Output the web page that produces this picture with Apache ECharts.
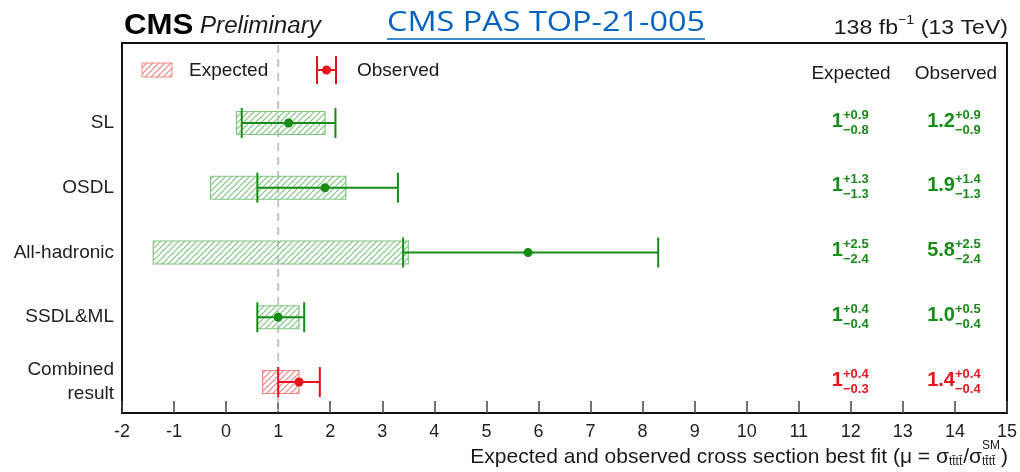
<!DOCTYPE html>
<html>
<head>
<meta charset="utf-8">
<script src="https://cdn.jsdelivr.net/npm/echarts@6/dist/echarts.min.js"></script>
<style>
  html, body { margin: 0; padding: 0; background: #fff; }
  #chart { width: 1020px; height: 472px; }
</style>
</head>
<body>
<div id="chart"></div>
<script>
// Channels, top to bottom
const categories = ['SL', 'OSDL', 'All-hadronic', 'SSDL&ML', 'Combined\nresult'];
// Expected signal strength (central, +up, -down)
const expCentral = [1, 1, 1, 1, 1];
const expUp = [0.9, 1.3, 2.5, 0.4, 0.4];
const expDown = [0.8, 1.3, 2.4, 0.4, 0.3];
// Observed signal strength (central, +up, -down)
const obsCentral = [1.2, 1.9, 5.8, 1.0, 1.4];
const obsUp = [0.9, 1.4, 2.5, 0.5, 0.4];
const obsDown = [0.9, 1.3, 2.4, 0.4, 0.4];
// Standard Model reference value
const smValue = [1];
// x-axis ticks
const xMin = -2, xMax = 15, xStep = 1;

const FONT = "'Liberation Sans', Arial, Helvetica, sans-serif";
const GREEN = '#178c17';
const RED = '#e8141c';
const GREEN_HATCH = '#7fc67f';
const RED_HATCH = '#ee8585';

const yMin = -1.2355, yMax = 4.479;

function hatch(color) {
  const s = 6;
  const c = document.createElement('canvas');
  c.width = s; c.height = s;
  const g = c.getContext('2d');
  g.strokeStyle = color;
  g.lineWidth = 1.2;
  g.beginPath();
  g.moveTo(0, s); g.lineTo(s, 0);
  g.moveTo(-s / 2, s / 2); g.lineTo(s / 2, -s / 2);
  g.moveTo(s / 2, s * 1.5); g.lineTo(s * 1.5, s / 2);
  g.stroke();
  return c;
}
const greenPattern = { image: hatch(GREEN_HATCH), repeat: 'repeat' };
const redPattern = { image: hatch(RED_HATCH), repeat: 'repeat' };

const lastRow = categories.length - 1;
const isCombined = i => i === lastRow;

const measureCtx = document.createElement('canvas').getContext('2d');
function tw(text, font) { measureCtx.font = font; return measureCtx.measureText(text).width; }

const fmtErr = v => v.toFixed(1);

const expData = categories.map((_, i) => [i, expCentral[i] - expDown[i], expCentral[i] + expUp[i]]);
const obsData = categories.map((_, i) => [i, obsCentral[i] - obsDown[i], obsCentral[i] + obsUp[i], obsCentral[i]]);
const labelData = categories.map((_, i) => [i, 0]);

// ---- header / axis-title text built from pieces ----
const graphics = [];
function txt(text, x, y, size, opts) {
  opts = opts || {};
  graphics.push({
    type: 'text', x: x, y: y, silent: true, scaleX: opts.scaleX || 1,
    style: {
      text: text, fill: opts.fill || '#1a1a1a',
      font: (opts.style || 'normal') + ' ' + (opts.weight || 'normal') + ' ' + size + 'px ' + (opts.family || FONT),
      align: opts.align || 'left', verticalAlign: 'middle'
    }
  });
}

// CMS Preliminary
txt('CMS', 124, 26, 30, { weight: 'bold', fill: '#000', scaleX: 1.04 });
txt('Preliminary', 200, 27, 23, { style: 'italic', scaleX: 1.05 });
// document reference
const linkFont = "normal normal 28px 'Open Sans', sans-serif";
const linkText = 'CMS PAS TOP-21-005';
const linkScale = 318 / tw(linkText, linkFont);
txt(linkText, 387, 23, 28, { family: "'Open Sans', sans-serif", fill: '#0563c1', scaleX: linkScale });
graphics.push({ type: 'line', silent: true, shape: { x1: 387, y1: 39, x2: 705, y2: 39 },
  style: { stroke: '#0563c1', lineWidth: 1.5 } });

// luminosity label, right aligned
(function () {
  const sc = 1.1;
  const big = 'normal normal 21px ' + FONT, small = 'normal normal 13px ' + FONT;
  const right = 1008;
  const b = ' (13 TeV)', s = '\u22121', a = '138 fb';
  const xB = right - tw(b, big) * sc;
  const xS = xB - tw(s, small) * sc;
  const xA = xS - tw(a, big) * sc;
  txt(a, xA, 28, 21, { scaleX: sc });
  txt(s, xS, 20, 13, { scaleX: sc });
  txt(b, xB, 28, 21, { scaleX: sc });
})();

// column headers
txt('Expected', 851, 74, 19, { align: 'center' });
txt('Observed', 956, 74, 19, { align: 'center' });

// legend
graphics.push({ type: 'rect', silent: true, shape: { x: 142, y: 63, width: 30, height: 14 },
  style: { fill: redPattern, stroke: RED_HATCH, lineWidth: 1 } });
txt('Expected', 189, 71, 19);
graphics.push({ type: 'line', silent: true, shape: { x1: 317, y1: 70, x2: 336, y2: 70 }, style: { stroke: RED, lineWidth: 2 } });
graphics.push({ type: 'line', silent: true, shape: { x1: 317, y1: 56, x2: 317, y2: 84 }, style: { stroke: RED, lineWidth: 2 } });
graphics.push({ type: 'line', silent: true, shape: { x1: 336, y1: 56, x2: 336, y2: 84 }, style: { stroke: RED, lineWidth: 2 } });
graphics.push({ type: 'circle', silent: true, shape: { cx: 326.5, cy: 70, r: 4.5 }, style: { fill: RED } });
txt('Observed', 357, 71, 19);

// x-axis title, assembled right to left
(function () {
  const size = 21, subSize = 12;
  const big = 'normal normal ' + size + 'px ' + FONT, small = 'normal normal ' + subSize + 'px ' + FONT;
  const yMain = 457, ySup = 446, ySub = 462;
  const tttt = 't t\u0304t t\u0304'.replace(/ /g, '');
  let x = 1008;
  x -= tw(')', big); txt(')', x, yMain, size);
  const stackW = Math.max(tw('SM', small), tw(tttt, small));
  x -= stackW + 1;
  txt('SM', x, ySup, subSize);
  txt(tttt, x, ySub, subSize);
  x -= tw('/\u03c3', big); txt('/\u03c3', x, yMain, size);
  x -= tw(tttt, small) + 1; txt(tttt, x, ySub, subSize);
  txt('Expected and observed cross section best fit (\u03bc = \u03c3', x, yMain, size, { align: 'right' });
})();

const chart = echarts.init(document.getElementById('chart'), null, { renderer: 'canvas' });

chart.setOption({
  animation: false,
  backgroundColor: '#fff',
  textStyle: { fontFamily: FONT },
  grid: { left: 122, right: 11, top: 43, bottom: 59, show: true, borderColor: '#111', borderWidth: 2 },
  xAxis: {
    type: 'value', min: xMin, max: xMax, interval: xStep,
    axisLine: { show: true, onZero: false, lineStyle: { color: '#111', width: 2 } },
    axisTick: { show: true, inside: true, length: 12, lineStyle: { color: '#444', width: 1.5 } },
    axisLabel: { fontSize: 18, color: '#222', margin: 10, fontFamily: FONT },
    splitLine: { show: false }
  },
  yAxis: {
    type: 'value', inverse: true, min: yMin, max: yMax,
    axisLine: { show: false }, axisTick: { show: false }, splitLine: { show: false },
    axisLabel: {
      customValues: categories.map((_, i) => i),
      formatter: v => categories[Math.round(v)],
      fontSize: 19, color: '#222', margin: 8, lineHeight: 24, fontFamily: FONT
    }
  },
  graphic: graphics,
  series: [
    {
      // dashed Standard Model reference line
      name: 'SM', type: 'custom', clip: false, z: 1,
      data: smValue.map(v => [v]),
      encode: { x: 0 },
      renderItem: function (params, api) {
        const top = api.coord([api.value(0), yMin]);
        const bot = api.coord([api.value(0), yMax]);
        return {
          type: 'line',
          shape: { x1: top[0], y1: top[1] + 2, x2: bot[0], y2: bot[1] - 2 },
          style: { stroke: '#c4c4c4', lineWidth: 2, lineDash: [8, 6] }
        };
      }
    },
    {
      name: 'Expected', type: 'custom', clip: false, z: 2,
      data: expData,
      encode: { x: [1, 2], y: 0 },
      renderItem: function (params, api) {
        const i = api.value(0);
        const p1 = api.coord([api.value(1), i]);
        const p2 = api.coord([api.value(2), i]);
        const c = isCombined(i);
        return {
          type: 'rect',
          shape: { x: p1[0], y: p1[1] - 11.5, width: p2[0] - p1[0], height: 23 },
          style: { fill: c ? redPattern : greenPattern, stroke: c ? RED_HATCH : GREEN_HATCH, lineWidth: 1.2 }
        };
      }
    },
    {
      name: 'Observed', type: 'custom', clip: false, z: 3,
      data: obsData,
      encode: { x: [1, 2, 3], y: 0 },
      renderItem: function (params, api) {
        const i = api.value(0);
        const lo = api.coord([api.value(1), i]);
        const hi = api.coord([api.value(2), i]);
        const mid = api.coord([api.value(3), i]);
        const col = isCombined(i) ? RED : GREEN;
        const h = 15;
        const ls = { stroke: col, lineWidth: 2 };
        return {
          type: 'group',
          children: [
            { type: 'line', shape: { x1: lo[0], y1: lo[1], x2: hi[0], y2: hi[1] }, style: ls },
            { type: 'line', shape: { x1: lo[0], y1: lo[1] - h, x2: lo[0], y2: lo[1] + h }, style: ls },
            { type: 'line', shape: { x1: hi[0], y1: hi[1] - h, x2: hi[0], y2: hi[1] + h }, style: ls },
            { type: 'circle', shape: { cx: mid[0], cy: mid[1], r: 4.5 }, style: { fill: col } }
          ]
        };
      }
    },
    {
      name: 'Values', type: 'custom', clip: false, z: 4,
      data: labelData,
      encode: { y: 0 },
      renderItem: function (params, api) {
        const i = api.value(0);
        const y = api.coord([0, i])[1];
        const right = params.coordSys.x + params.coordSys.width;
        const col = isCombined(i) ? RED : GREEN;
        const bigF = 'bold 20px ' + FONT, smallF = 'bold 13px ' + FONT;
        const t = (text, x, yy, font, align) => ({
          type: 'text',
          style: { text: text, x: x, y: yy, font: font, fill: col, align: align, verticalAlign: 'middle' }
        });
        const xe = right - 164, xo = right - 52;
        return {
          type: 'group',
          children: [
            t(String(expCentral[i]), xe, y - 2, bigF, 'right'),
            t('+' + fmtErr(expUp[i]), xe, y - 8, smallF, 'left'),
            t('\u2212' + fmtErr(expDown[i]), xe, y + 7, smallF, 'left'),
            t(obsCentral[i].toFixed(1), xo, y - 2, bigF, 'right'),
            t('+' + fmtErr(obsUp[i]), xo, y - 8, smallF, 'left'),
            t('\u2212' + fmtErr(obsDown[i]), xo, y + 7, smallF, 'left')
          ]
        };
      }
    }
  ]
});
</script>
</body>
</html>
